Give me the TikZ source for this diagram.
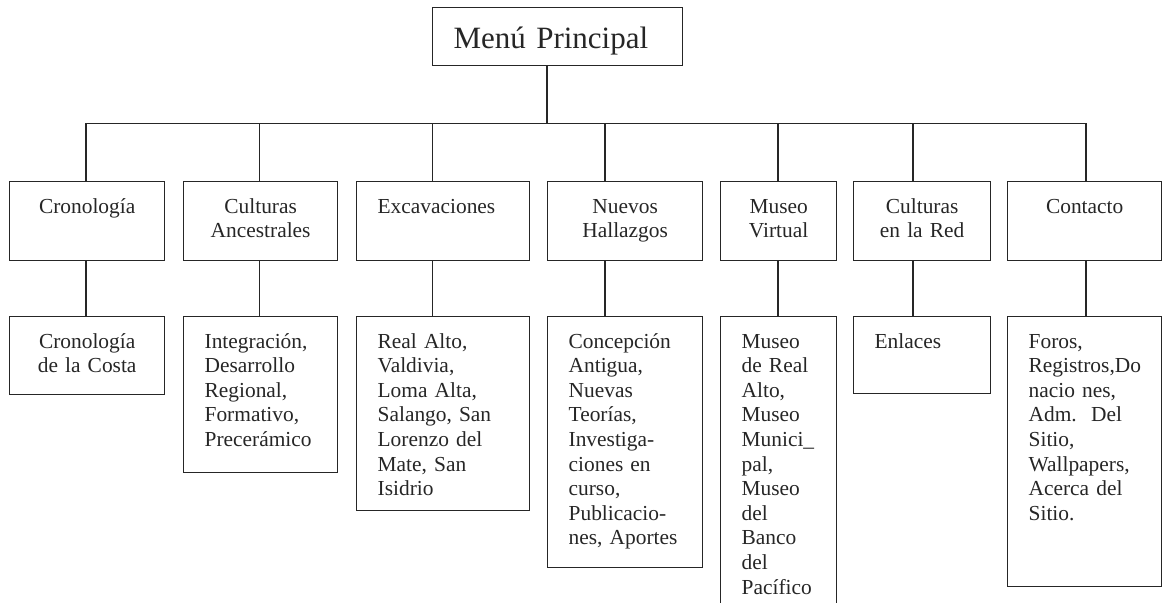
\documentclass[tikz,border=0pt]{standalone}
\usepackage{fontspec}
\setmainfont{Liberation Serif}
\begin{document}
\begin{tikzpicture}[x=0.5pt,y=-0.5pt,line width=0.65pt,
    box/.style={draw=black!85,text=black!85,anchor=north west,inner xsep=10.5pt,inner ysep=0pt,
        font=\fontsize{10.7}{12.3}\selectfont,text height=15.75pt},
    wire/.style={draw=black!85}]
    \useasboundingbox(0,0)rectangle(1163,603);
    \node[box,text width=104pt,align=left,font=\fontsize{15.5}{18}\selectfont,text height=20.5pt,text depth=8.5pt](menu)at(432,7){Menú Principal};
    \node[box,text width=56.5pt,align=center,text depth=23.75pt](c1)at(9,181){Cronología};
    \node[box,text width=56pt,align=center,text depth=23.75pt](c2)at(183,181){Culturas\\Ancestrales};
    \node[box,text width=65.5pt,align=left,text depth=23.75pt](c3)at(356,181){Excavaciones};
    \node[box,text width=56.5pt,align=center,text depth=23.75pt](c4)at(547,181){Nuevos\\Hallazgos};
    \node[box,text width=37pt,align=center,text depth=23.75pt](c5)at(720,181){Museo\\Virtual};
    \node[box,text width=47.5pt,align=center,text depth=23.75pt](c6)at(853,181){Culturas\\en la Red};
    \node[box,text width=56pt,align=center,text depth=23.75pt](c7)at(1007,181){Contacto};
    \node[box,text width=56.5pt,align=center,text depth=23.25pt](s1)at(9,316){Cronología\\de la Costa};
    \node[box,text width=56pt,align=left,text depth=62.25pt](s2)at(183,316){Integración,\\Desarrollo\\Regional,\\Formativo,\\Precerámico};
    \node[box,text width=65.5pt,align=left,text depth=81.25pt](s3)at(356,316){Real Alto,\\Valdivia,\\Loma Alta,\\Salango, San\\Lorenzo del\\Mate, San\\Isidrio};
    \node[box,text width=56.5pt,align=left,text depth=109.75pt](s4)at(547,316){Concepción\\Antigua,\\Nuevas\\Teorías,\\Investiga-\\ciones en\\curso,\\Publicacio-\\nes, Aportes};
    \node[box,text width=37pt,align=left,text depth=136.25pt](s5)at(720,316){Museo\\de Real\\Alto,\\Museo\\Munici\_\\pal,\\Museo\\del\\Banco\\del\\Pacífico};
    \node[box,text width=47.5pt,align=left,text depth=22.75pt](s6)at(853,316){Enlaces};
    \node[box,text width=56pt,align=left,text depth=119.25pt](s7)at(1007,316){Foros,\\Registros,Do\\nacio nes,\\Adm.\ \ Del\\Sitio,\\Wallpapers,\\Acerca del\\Sitio.};
    \coordinate(root)at(547,123.5);
    \coordinate(j1)at(86,123.5);
    \coordinate(j2)at(259.5,123.5);
    \coordinate(j3)at(432.5,123.5);
    \coordinate(j4)at(605,123.5);
    \coordinate(j5)at(778,123.5);
    \coordinate(j6)at(913,123.5);
    \coordinate(j7)at(1086,123.5);
    \draw[wire](menu.south -| root)--(root);
    \draw[wire](j1)--(j7);
    \foreach \i in {1,...,7}{
        \draw[wire](j\i)--(j\i |- c\i.north);
        \draw[wire](j\i |- c\i.south)--(j\i |- s\i.north);
    }
\end{tikzpicture}
\end{document}
